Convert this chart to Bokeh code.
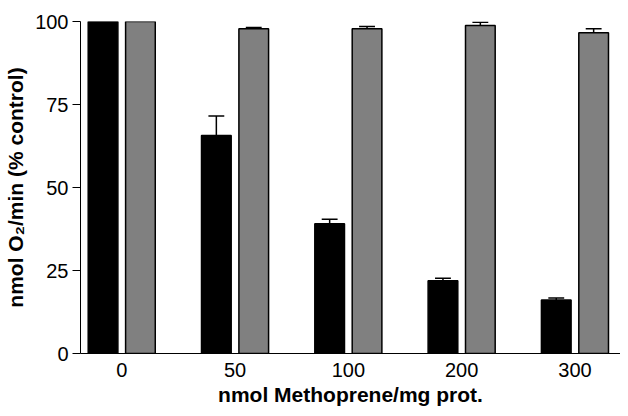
from bokeh.plotting import figure
from bokeh.models import FixedTicker
from bokeh.embed import file_html
from bokeh.resources import INLINE

categories = ["0", "50", "100", "200", "300"]
methoprene = [100, 65.7, 39.1, 21.9, 16.1]
methoprene_err = [0, 5.8, 1.3, 0.8, 0.6]
control = [100, 97.8, 97.8, 98.8, 96.6]
control_err = [0, 0.4, 0.7, 1.0, 1.2]

pos = list(range(len(categories)))
off = 0.165
bw = 0.262
capw = 0.07

p = figure(width=620, height=408, output_backend="svg", toolbar_location=None,
           x_range=(-0.364, 4.402), y_range=(0, 100),
           min_border_left=80, min_border_right=0, min_border_top=21, min_border_bottom=53)
p.outline_line_color = None
p.xgrid.visible = False
p.ygrid.visible = False

xb = [i - off for i in pos]
xg = [i + off for i in pos]

p.vbar(x=xb, top=methoprene, bottom=0, width=bw, fill_color="black", line_color="black", line_width=1.5)
p.vbar(x=xg, top=control, bottom=0, width=bw, fill_color="#808080", line_color="black", line_width=1.5)

for xs, vals, errs in ((xb, methoprene, methoprene_err), (xg, control, control_err)):
    ex = [x for x, e in zip(xs, errs) if e > 0]
    ev = [v for v, e in zip(vals, errs) if e > 0]
    ee = [v + e for v, e in zip(vals, errs) if e > 0]
    p.segment(x0=ex, y0=ev, x1=ex, y1=ee, line_color="black", line_width=1.5)
    p.segment(x0=[x - capw for x in ex], y0=ee, x1=[x + capw for x in ex], y1=ee,
              line_color="black", line_width=1.5)

font = "Liberation Sans"
p.xaxis.ticker = FixedTicker(ticks=pos)
p.xaxis.major_label_overrides = {i: c for i, c in zip(pos, categories)}
p.xaxis.major_tick_out = 0
p.xaxis.major_tick_in = 0
p.xaxis.minor_tick_line_color = None
p.xaxis.axis_line_color = "black"
p.xaxis.axis_label = "nmol Methoprene/mg prot."
p.xaxis.major_label_standoff = 9
p.xaxis.axis_label_standoff = 3
p.xaxis.axis_label_text_font_size = "21px"

p.yaxis.ticker = FixedTicker(ticks=[0, 25, 50, 75, 100])
p.yaxis.major_tick_out = 8
p.yaxis.major_tick_in = 0
p.yaxis.minor_tick_line_color = None
p.yaxis.axis_line_color = "black"
p.yaxis.major_tick_line_color = "black"
p.yaxis.axis_label = "nmol O\u2082/min (% control)"
p.yaxis.major_label_standoff = 4
p.yaxis.axis_label_standoff = 5
p.yaxis.axis_label_text_font_size = "21px"

for ax in (p.xaxis, p.yaxis):
    ax.major_label_text_font = font
    ax.major_label_text_font_size = "20px"
    ax.major_label_text_color = "black"
    ax.axis_label_text_font = font
    ax.axis_label_text_font_style = "bold"
    ax.axis_label_text_color = "black"

open("out.html", "w").write(file_html(p, INLINE))
